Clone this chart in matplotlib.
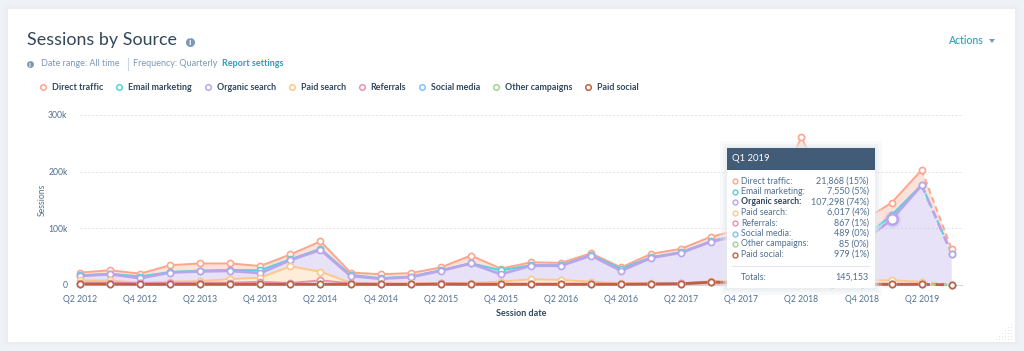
import matplotlib
matplotlib.use('Agg')
import matplotlib.pyplot as plt
import numpy as np
from matplotlib.lines import Line2D
from matplotlib.patches import Polygon, Rectangle

plt.rcParams['font.family'] = ['Lato', 'DejaVu Sans']

# quarterly sessions, in thousands (Q1 2019 is the one from the tooltip)
quarters = ['Q2 2012', 'Q3 2012', 'Q4 2012', 'Q1 2013', 'Q2 2013', 'Q3 2013', 'Q4 2013', 'Q1 2014',
            'Q2 2014', 'Q3 2014', 'Q4 2014', 'Q1 2015', 'Q2 2015', 'Q3 2015', 'Q4 2015', 'Q1 2016',
            'Q2 2016', 'Q3 2016', 'Q4 2016', 'Q1 2017', 'Q2 2017', 'Q3 2017', 'Q4 2017', 'Q1 2018',
            'Q2 2018', 'Q3 2018', 'Q4 2018', 'Q1 2019', 'Q2 2019', 'Q3 2019']
direct = [5, 6, 5, 12, 12.5, 11.5, 7.5, 8.5, 13, 4, 7, 6, 5, 13.5, 3, 5, 4, 3, 2, 6, 6, 8, 8.5, 18, 33, 12, 31,
          21.868, 26, 7.5]
email = [1, 1, 3, 1, 1.5, 1.5, 5, 1.5, 2, 2, 1, 1, 1, 0.5, 7, 1, 1, 1, 4, 1, 1, 1, 1.5, 2, 3, 3, 7, 7.55, 1, 0.5]
organic = [8, 11, 8, 16, 17, 14.5, 8, 11, 38.5, 12, 8, 11, 22, 34, 13, 24, 25, 46, 22, 44, 53.5, 70, 81, 117,
           216, 122, 66, 107.298, 170.5, 54]
paid_search = [3.6, 3.6, 0.9, 2.4, 2.9, 6.4, 7.4, 29.4, 15.4, 0.9, 0.8, 0.8, 0.3, 1.6, 3.6, 7.6, 6.6, 3.6, 0.9,
               1.6, 0.6, 0.5, 1.8, 3.6, 4.1, 4.6, 5.1, 6.017, 3.3, 0.2]
referrals = [2.5, 2.5, 1.5, 2, 2.5, 2.5, 4, 2, 6.5, 1.5, 0.8, 0.8, 0.8, 0.8, 0.8, 0.8, 0.8, 0.8, 0.5, 0.5, 0.5,
             0.6, 0.8, 1, 1.5, 1, 1, 0.867, 0.6, 0.1]
social = [0.3, 0.3, 0.3, 0.3, 0.3, 0.3, 0.3, 0.3, 0.3, 0.3, 0.3, 0.3, 0.3, 0.3, 0.3, 0.3, 0.3, 0.3, 0.3, 0.3,
          0.3, 0.3, 0.3, 0.3, 0.3, 0.3, 0.3, 0.489, 0.3, 0.1]
other = [0.1, 0.1, 0.1, 0.1, 0.1, 0.1, 0.1, 0.1, 0.1, 0.1, 0.1, 0.1, 0.1, 0.1, 0.1, 0.1, 0.1, 0.1, 0.1, 0.1,
         0.1, 0.1, 0.1, 0.1, 0.1, 0.1, 0.1, 0.085, 0.1, 0.1]
paid_social = [1.5, 1.5, 1.2, 1.2, 1.2, 1.2, 1.2, 1.2, 1.2, 1.2, 1, 1, 1.5, 1.2, 1.2, 1.2, 1.2, 1.2, 1.2, 1.5,
               2, 5, 4, 3, 3, 2, 1.5, 0.979, 1.2, 0.3]

names = ['Direct traffic', 'Email marketing', 'Organic search', 'Paid search',
         'Referrals', 'Social media', 'Other campaigns', 'Paid social']
series = [direct, email, organic, paid_search, referrals, social, other, paid_social]
colors = ['#fea58e', '#51d3d9', '#b9a5ea', '#fdc78a', '#ea90b1', '#81c1fd', '#a2d28f', '#bf5f48']
hover = quarters.index('Q1 2019')

W, H = 1024, 351
DARK = '#33475b'
MID = '#516f90'
LINK = '#2a9fbc'


def fx(px):
    return px / W


def fy(py):
    return 1 - py / H


def label(px, py, s, **kw):
    kw.setdefault('color', MID)
    kw.setdefault('va', 'center')
    kw.setdefault('fontsize', 6.5)
    return fig.text(fx(px), fy(py), s, **kw)


def box(x0, y0, x1, y1, color, zorder=1, alpha=1.0):
    fig.patches.append(Rectangle((fx(x0), fy(y1)), fx(x1 - x0), (y1 - y0) / H, transform=fig.transFigure,
                                 facecolor=color, edgecolor='none', zorder=zorder, alpha=alpha))


def dot(px, py, color, zorder=9):
    fig.add_artist(Line2D([fx(px)], [fy(py)], marker='o', ms=3.5, mfc='white', mec=color, mew=1.0,
                          ls='none', zorder=zorder, transform=fig.transFigure))


def info(px, py, ms=6.5, size=6.5):
    fig.add_artist(Line2D([fx(px)], [fy(py)], marker='o', ms=ms, mfc='#7c98b6', mec='none',
                          ls='none', zorder=2, transform=fig.transFigure))
    label(px, py + 0.3, 'i', color='white', fontsize=size, ha='center', fontweight='bold', zorder=3)


fig = plt.figure(figsize=(W / 100, H / 100), dpi=100, facecolor='#eef1f5')

# card
for grow, a in [(4, 0.10), (2, 0.15)]:
    box(8 - grow, 9 - grow, 1015 + grow, 342 + grow, '#dfe3eb', zorder=-3, alpha=a)
box(8, 9, 1015, 342, 'white', zorder=-2)

ax = fig.add_axes([fx(80), fy(285), fx(962 - 80), 170 / H], zorder=1)
ax.patch.set_alpha(0)
x = np.arange(len(quarters))

# stack is built from the bottom up, the legend reads top down
stack_vals = np.array(series[::-1])
tops = np.cumsum(stack_vals, axis=0)[::-1]
ax.stackplot(x, stack_vals, colors=colors[::-1], alpha=0.32, lw=0, zorder=2)

# legend order is also the drawing order, paid social ends up on top
for i, c in enumerate(colors):
    lw = 2.0 if names[i] in ('Organic search', 'Paid social') else 1.4
    ax.plot(x[:-1], tops[i][:-1], color=c, lw=lw, zorder=3 + i * 0.1, solid_capstyle='round', clip_on=False)
    ax.plot(x[-2:], tops[i][-2:], color=c, lw=lw, ls=(0, (3, 2)), zorder=3 + i * 0.1, clip_on=False)
    ax.plot(x, tops[i], ls='none', marker='o', ms=4.4, mfc='white', mec=c, mew=1.2, zorder=4 + i * 0.1,
            clip_on=False)

# hovered point
organic_top = tops[names.index('Organic search')][hover]
ax.plot([x[hover]], [organic_top], marker='o', ms=12, mfc=colors[2], mec='none', alpha=0.3, ls='none', zorder=5)
ax.plot([x[hover]], [organic_top], marker='o', ms=7.5, mfc='white', mec=colors[2], mew=1.8, ls='none', zorder=5.1)

ax.set_xlim(0, (962 - 80) / 30.06)
ax.set_ylim(0, 300)
ax.set_xticks(x[::2], quarters[::2])
ax.set_yticks([0, 100, 200, 300], ['0', '100k', '200k', '300k'])
ax.tick_params(length=0, labelsize=6.2, labelcolor=MID, pad=7)
ax.tick_params(axis='y', pad=9)
for sp in ['top', 'left', 'right']:
    ax.spines[sp].set_visible(False)
ax.spines['bottom'].set_color('#cbd6e2')
ax.grid(axis='y', color='#dfe3eb', lw=0.7, ls=(0, (2, 2)))
ax.set_axisbelow(True)
ax.set_xlabel('Session date', fontsize=6.5, fontweight='bold', color=DARK, labelpad=4)
ax.set_ylabel('Sessions', fontsize=6.2, color=MID, labelpad=1)

leg_handles = [Line2D([], [], marker='o', ms=4, mfc='white', mec=c, mew=1.1, ls='none') for c in colors]
leg = fig.legend(leg_handles, names, ncol=8, frameon=False, loc='center left', bbox_to_anchor=(fx(26), fy(88)),
                 handletextpad=0.0, columnspacing=0.8, prop={'size': 6.4, 'weight': 'bold'})
for t in leg.get_texts():
    t.set_color(DARK)

# header
label(27, 40, 'Sessions by Source', color=DARK, fontsize=12.9)
info(190, 42)
info(30, 64, ms=5, size=5)
label(41, 64, 'Date range: All time', color='#7c98b6')
fig.add_artist(Line2D([fx(127.5), fx(127.5)], [fy(58), fy(70)], color='#cbd6e2', lw=0.8))
label(133, 64, 'Frequency: Quarterly', color='#7c98b6')
label(221.5, 64, 'Report settings', color=LINK, fontweight='bold')
label(949, 41, 'Actions', color=LINK, fontsize=7.6, fontweight='medium')
fig.patches.append(Polygon([(fx(989), fy(39)), (fx(995), fy(39)), (fx(992), fy(43))], closed=True,
                           transform=fig.transFigure, facecolor='#7c98b6', edgecolor='none'))

# tooltip
for grow, a in [(7, 0.25), (4, 0.35), (2, 0.4)]:
    box(727 - grow, 148 - grow, 875 + grow, 288 + grow, '#e6e9ee', zorder=6, alpha=a)
box(727, 148, 875, 288, 'white', zorder=7)
box(727, 148, 875, 170, '#425b76', zorder=8)
label(732, 159, quarters[hover], color='white', fontsize=6.8, zorder=9)
total = sum(s[hover] for s in series)
for i, (n, s, c) in enumerate(zip(names, series, colors)):
    py = 181 + i * 10.5
    dot(735, py, c)
    bold = n == 'Organic search'
    label(741, py, n + ':', fontsize=6.3, zorder=9, color=DARK if bold else MID,
          fontweight='bold' if bold else 'normal')
    label(869, py, f'{s[hover] * 1000:,.0f} ({s[hover] / total:.0%})', fontsize=6.5, ha='right', zorder=9)
fig.add_artist(Line2D([fx(732), fx(869)], [fy(266), fy(266)], color='#e5e5f2', lw=0.8, zorder=9))
label(741, 277, 'Totals:', fontsize=6.3, zorder=9)
label(869, 277, f'{total * 1000:,.0f}', fontsize=6.5, ha='right', zorder=9)

# resize handle
for row in range(6):
    for col in range(row + 1):
        box(1011 - col * 3, 324 + row * 3, 1012.3 - col * 3, 325.3 + row * 3, '#dfe3eb', zorder=2)

fig.savefig('out.png', dpi=100, facecolor=fig.get_facecolor())
